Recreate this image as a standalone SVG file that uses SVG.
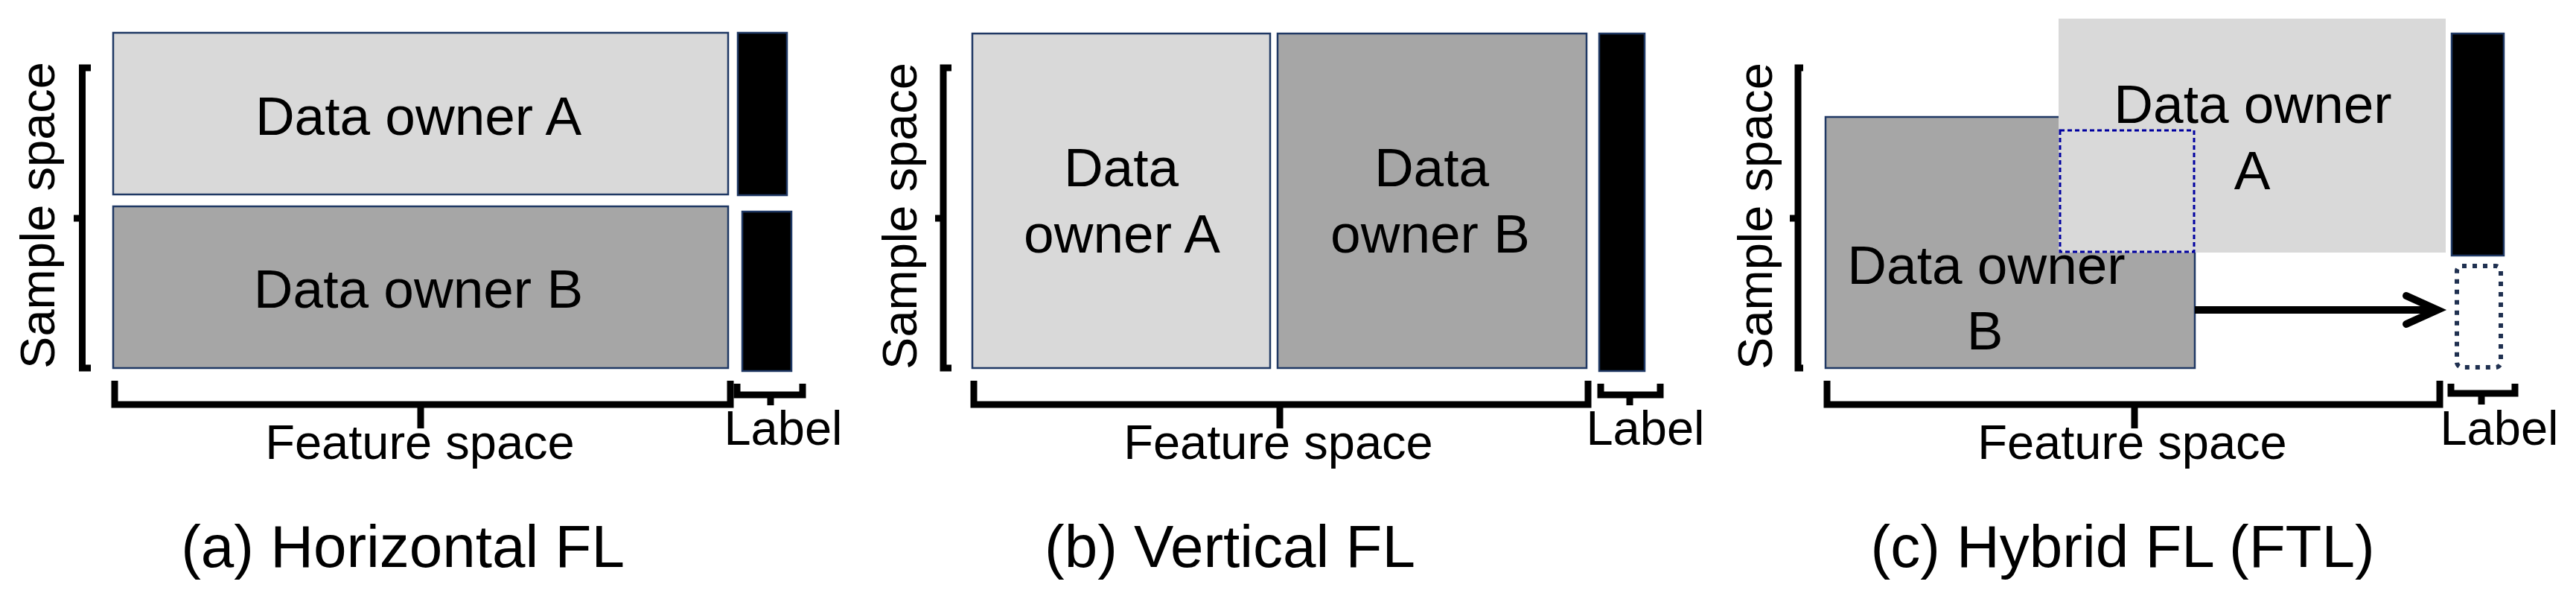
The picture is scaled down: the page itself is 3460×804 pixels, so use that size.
<svg xmlns="http://www.w3.org/2000/svg" width="3460" height="804" viewBox="0 0 3460 804">
<style>
text{font-family:"Liberation Sans",Arial,sans-serif;fill:#000}
.t{font-size:73px;text-anchor:middle}
.ax{font-size:65px;text-anchor:middle}
.cap{font-size:80px;text-anchor:middle}
.light{fill:#d9d9d9;stroke:#1f3864;stroke-width:2.5}
.dark{fill:#a6a6a6;stroke:#1f3864;stroke-width:2.5}
.lab{fill:#000;stroke:#1f3864;stroke-width:2.5}
.br{fill:none;stroke:#000;stroke-width:9;stroke-linejoin:miter}
</style>
<rect width="3460" height="804" fill="#fff"/>

<!-- Panel (a) -->
<g id="a-ownerA"><rect class="light" x="152" y="44" width="826" height="217"/><text class="t" x="562" y="181">Data owner A</text></g>
<g id="a-ownerB"><rect class="dark" x="152" y="277" width="826" height="217"/><text class="t" x="562" y="413">Data owner B</text></g>
<g id="a-label1"><rect class="lab" x="991" y="44" width="66" height="218"/></g>
<g id="a-label2"><rect class="lab" x="997" y="284" width="66" height="214"/></g>
<g id="a-axes">
<path class="br" d="M122,91 H110.5 V494 H122 M110.5,293 H99"/>
<path class="br" d="M154,511 V543 H981 V511 M565,543 V575"/>
<path class="br" d="M990,515 V530 H1078 V515 M1035,530 V544"/>
<text class="ax" transform="translate(73,289) rotate(-90)">Sample space</text>
<text class="ax" x="564" y="616">Feature space</text>
<text class="ax" x="1052" y="597">Label</text>
<text class="cap" x="541" y="761">(a) Horizontal FL</text>
</g>

<!-- Panel (b) -->
<g id="b-ownerA"><rect class="light" x="1306" y="45" width="400" height="449"/><text class="t" x="1506" y="250">Data</text><text class="t" x="1507" y="339">owner A</text></g>
<g id="b-ownerB"><rect class="dark" x="1716" y="45" width="415" height="449"/><text class="t" x="1923" y="250">Data</text><text class="t" x="1921" y="339">owner B</text></g>
<g id="b-label"><rect class="lab" x="2148" y="45" width="61" height="453"/></g>
<g id="b-axes">
<path class="br" d="M1278,91 H1267 V494 H1278 M1267,293 H1256"/>
<path class="br" d="M1308,511 V543 H2133 V511 M1719,543 V575"/>
<path class="br" d="M2150,515 V530 H2230 V515 M2189,530 V544"/>
<text class="ax" transform="translate(1231,290) rotate(-90)">Sample space</text>
<text class="ax" x="1717" y="616">Feature space</text>
<text class="ax" x="2210" y="597">Label</text>
<text class="cap" x="1652" y="761">(b) Vertical FL</text>
</g>

<!-- Panel (c) -->
<g id="c-ownerB"><rect class="dark" x="2452" y="157" width="496" height="337"/></g>
<g id="c-ownerA"><rect fill="#d9d9d9" x="2765" y="25" width="520" height="314"/><text class="t" x="3026" y="165">Data owner</text><text class="t" x="3025" y="254">A</text></g>
<g id="c-overlap"><rect x="2767" y="175" width="180" height="163" fill="#d9d9d9" stroke="#0000a0" stroke-width="3" stroke-dasharray="6 4"/></g>
<g id="c-ownerB-text"><text class="t" x="2668" y="381">Data owner</text><text class="t" x="2666" y="469">B</text></g>
<g id="c-label"><rect class="lab" x="3293" y="45" width="70" height="298"/></g>
<g id="c-label-missing"><rect x="3300" y="357" width="59" height="136" rx="7" fill="#fff" stroke="#1f3050" stroke-width="6" stroke-dasharray="6 8"/></g>
<g id="connectors">
<line x1="2948" y1="416" x2="3268" y2="416" stroke="#000" stroke-width="10"/>
<polyline points="3232,397 3274,416 3232,435" fill="none" stroke="#000" stroke-width="10" stroke-linecap="round"/>
</g>
<g id="c-axes">
<path class="br" d="M2422,91 H2415 V494 H2422 M2415,293 H2404"/>
<path class="br" d="M2454,511 V543 H3277 V511 M2867,543 V575"/>
<path class="br" d="M3292,515 V528 H3378 V515 M3333,528 V543"/>
<text class="ax" transform="translate(2380,290) rotate(-90)">Sample space</text>
<text class="ax" x="2864" y="616">Feature space</text>
<text class="ax" x="3357" y="597">Label</text>
<text class="cap" x="2851" y="761">(c) Hybrid FL (FTL)</text>
</g>
</svg>
